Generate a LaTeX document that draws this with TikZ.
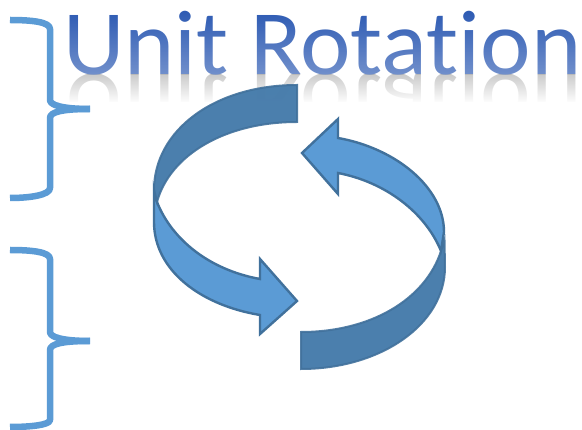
\documentclass[tikz,border=0pt]{standalone}
\usepackage{fontspec}
\setmainfont{Carlito}[Ligatures={NoCommon,NoRare,NoDiscretionary,NoContextual}]
\usetikzlibrary{fadings}
\definecolor{bracecol}{HTML}{5B9BD5}
\definecolor{edgecol}{HTML}{41719C}
\definecolor{darkband}{HTML}{447AAA}
\definecolor{titlecol}{HTML}{2F5CB4}
\tikzfading[name=titlefade, top color=transparent!100, bottom color=transparent!68]
\tikzfading[name=mirrorfade, top color=transparent!50, bottom color=transparent!0]
\tikzset{
  bracket/.style={draw=bracecol, line width=6.5pt, line join=round},
  lightband/.style={fill=bracecol, draw=edgecol, line width=2.4pt, line join=miter},
  shadeband/.style={fill=darkband, fill opacity=0.96, draw=edgecol, draw opacity=0.9, line width=2pt, line join=miter},
  titletext/.style={font=\fontsize{92}{92}\selectfont, inner sep=0pt, anchor=base west, xscale=1.04, transform shape}
}
\begin{document}
\begin{tikzpicture}[x=1pt,y=-1pt]
\useasboundingbox (0,0) rectangle (582,430);
% title and its reflection
\coordinate (tb) at (63,74.5);
\node[titletext, text=gray!80] (mirror) at (tb) [yscale=-1] {Unit Rotation\kern-5pt};
\fill[white, path fading=mirrorfade] (0,75) rectangle (582,103);
\fill[white] (0,102.5) rectangle (582,150);
\node[titletext, text=titlecol] (title) at (tb) {Unit Rotation\kern-5pt};
\fill[white, path fading=titlefade] (0,12) rectangle (582,75);
% braces
\draw[bracket] (10,20) .. controls (32,20) and (50,22) .. (50,29) -- (50,100) .. controls (50,105) and (62,109) .. (90,109);
\draw[bracket] (90,109) .. controls (62,109) and (50,112) .. (50,118) -- (50,188) .. controls (50,195) and (30,198) .. (10,198);
\draw[bracket] (10,250) .. controls (32,250) and (50,252) .. (50,259) -- (50,332) .. controls (50,337) and (62,341) .. (90,341);
\draw[bracket] (90,341) .. controls (62,341) and (50,344) .. (50,350) -- (50,420) .. controls (50,425) and (30,427) .. (10,427);
% lower left arrow
\draw[lightband] (154,190) -- (154,222) .. controls (154,270) and (200,305) .. (260,315)
  -- (260,334) -- (297,301) -- (260,259) -- (260,279)
  .. controls (210,270) and (172,240) .. (157,202) -- cycle;
% upper right arrow
\draw[lightband] (444,232) .. controls (444,187) and (395,148) .. (338,138)
  -- (338,119) -- (302,153) -- (338,194) -- (338,173)
  .. controls (385,182) and (425,212) .. (441,251) -- cycle;
% shaded bands
\draw[shadeband] (297,85) .. controls (215,85) and (154,130) .. (154,190) -- (157,202)
  .. controls (170,155) and (225,122) .. (297,122) -- cycle;
\draw[shadeband] (301,369) .. controls (380,369) and (445,325) .. (445,267) -- (444.5,240) -- (441,251)
  .. controls (425,300) and (370,332) .. (301,332) -- cycle;
\end{tikzpicture}
\end{document}
